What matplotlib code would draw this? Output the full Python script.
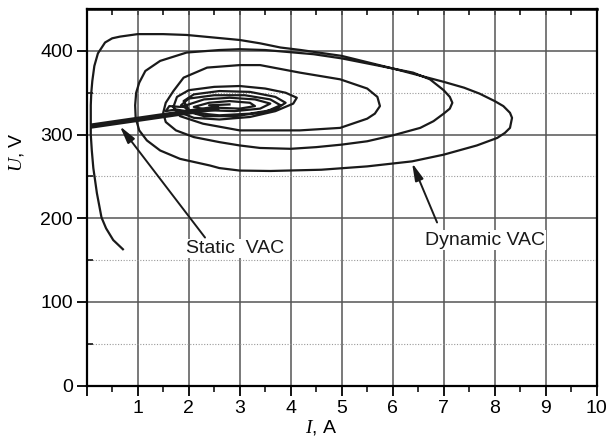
import matplotlib
matplotlib.use('Agg')
import matplotlib.pyplot as plt
from matplotlib.ticker import MultipleLocator

plt.rcParams['font.family'] = ['Liberation Sans', 'DejaVu Sans']
plt.rcParams['mathtext.fontset'] = 'custom'
plt.rcParams['mathtext.it'] = 'Liberation Serif:italic'
plt.rcParams['mathtext.rm'] = 'Liberation Sans'

#%% data: current I (A), voltage U (V)
# dynamic VAC, one spiral from the outer loop into the cluster
I_dyn = [0.71, 0.52, 0.38, 0.29, 0.20, 0.13, 0.10, 0.08, 0.08, 0.08, 0.09, 0.11, 0.15, 0.22, 0.36, 0.50,
         0.65, 1.00, 1.50, 1.96, 2.48, 3.00, 3.40, 3.80, 4.20, 5.00, 6.00, 6.50, 7.00, 7.40, 7.70, 8.00,
         8.17, 8.30, 8.34, 8.30, 8.20, 8.05, 7.65, 7.00, 6.38, 5.50, 4.60, 3.60, 3.00, 2.60, 2.42, 1.83,
         1.44, 1.18, 1.03, 0.96, 0.95, 0.97, 1.03, 1.15, 1.44, 1.96, 2.60, 3.00, 3.50, 4.45, 5.00, 5.75,
         6.40, 6.73, 7.00, 7.12, 7.17, 7.12, 7.00, 6.80, 6.54, 6.00, 5.50, 5.00, 4.50, 4.00, 3.40, 3.00,
         2.60, 2.10, 1.75, 1.55, 1.50, 1.55, 1.70, 1.90, 2.36, 3.00, 3.40, 4.18, 4.97, 5.50, 5.70, 5.75,
         5.65, 5.50, 4.97, 4.18, 3.00, 2.28, 1.83, 1.70, 1.77, 2.00, 2.50, 3.00, 3.50, 3.90, 4.12, 4.05,
         3.70, 3.20, 2.60, 2.10, 1.85, 2.00, 1.90, 2.10, 2.60, 3.20, 3.70, 3.90, 3.70, 3.20, 2.60, 2.10,
         1.85, 2.00, 2.50, 3.10, 3.60, 3.80, 3.50, 2.90, 2.30, 1.95, 1.75, 1.55, 1.62, 1.85, 2.00, 2.30,
         2.80, 3.30, 3.60, 3.40, 2.90, 2.40, 2.10, 2.40, 2.80, 3.20, 3.30, 3.00, 2.60, 2.40, 2.80]
U_dyn = [163, 174, 188, 201, 230, 260, 281, 300, 313, 335, 350, 364, 382, 397, 410, 415,
         417, 420, 420, 419, 416, 413, 409, 404, 401, 394, 379, 371, 363, 356, 349, 340,
         334, 326, 320, 308, 302, 296, 287, 276, 268, 262, 258, 256.5, 257, 260, 263, 271,
         281, 293, 305, 320, 335, 350, 362, 376, 388, 398, 401, 402, 401, 396, 391, 382,
         374, 366, 353, 345, 338, 331, 325, 316, 308, 299, 292, 288, 285, 283, 284, 287,
         291, 297, 305, 315, 326, 338, 352, 368, 380, 383, 383, 374, 366, 355, 345, 334,
         325, 319, 308, 305, 305, 313, 322, 333, 345, 353, 357, 358, 355, 350, 344, 337,
         328, 321, 318, 320, 326, 330, 340, 348, 352, 351, 345, 338, 330, 325, 323, 326,
         335, 343, 347, 347, 342, 335, 327, 322, 322, 328, 330, 328, 334, 333, 336, 342,
         344, 342, 337, 331, 328, 329, 333, 338, 340, 338, 334, 331, 332, 335, 336]

# static VAC
I_stat = [0.07, 1.77, 2.60]
U_stat = [310, 325, 332]

# annotations: (text position, arrow tip)
static_text = (2.91, 164)
static_tip = (0.65, 310)
static_tail = (2.32, 177)
dyn_text = (7.81, 174)
dyn_tip = (6.38, 266)
dyn_tail = (6.87, 195)

#%% figure
fig = plt.figure(figsize=(6.08, 4.46), dpi=100)
ax = fig.add_axes([0.1426, 0.1352, 0.8388, 0.8446])

ax.plot(I_dyn, U_dyn, color='#1a1a1a', lw=1.6, solid_joinstyle='round', zorder=3)
ax.plot(I_stat, U_stat, color='#1a1a1a', lw=3.8, solid_capstyle='butt', zorder=4)

arrow = dict(arrowstyle='-|>,head_length=0.65,head_width=0.16', color='#1a1a1a', lw=1.4,
             mutation_scale=16, shrinkA=0, shrinkB=0)
ax.annotate('', xy=static_tip, xytext=static_tail, arrowprops=arrow)
ax.annotate('', xy=dyn_tip, xytext=dyn_tail, arrowprops=arrow)
ax.text(*static_text, 'Static  VAC', fontsize=14, ha='center', va='center', color='#1a1a1a',
        bbox=dict(fc='white', ec='none', pad=1))
ax.text(*dyn_text, 'Dynamic VAC', fontsize=14, ha='center', va='center', color='#1a1a1a',
        bbox=dict(fc='white', ec='none', pad=1))

ax.set_xlim(0, 10)
ax.set_ylim(0, 450)
ax.set_xticks(range(0, 11))
ax.set_xticklabels([''] + [str(i) for i in range(1, 11)])
ax.set_yticks(range(0, 401, 100))
ax.xaxis.set_minor_locator(MultipleLocator(0.5))
ax.yaxis.set_minor_locator(MultipleLocator(50))

ax.grid(which='major', color='#555555', lw=1.1, zorder=1)
ax.grid(which='minor', axis='y', color='#9a9a9a', lw=0.8, ls=(0, (1, 1.5)), zorder=1)
ax.set_axisbelow(True)

ax.tick_params(which='major', direction='out', length=7, width=1.3, labelsize=14, pad=3)
ax.tick_params(which='minor', direction='out', length=4, width=1.1)
ax.tick_params(axis='y', which='minor', direction='in', length=4)
secx = ax.secondary_xaxis('top')
secx.set_xticks(range(0, 11))
secx.xaxis.set_minor_locator(MultipleLocator(0.5))
secx.tick_params(which='both', direction='in', length=4, width=1.1, labelsize=0)
secx.set_xticklabels([])
for s in ax.spines.values():
    s.set_linewidth(1.6)
secx.spines['top'].set_linewidth(1.8)

ax.set_xlabel('$I$, A', fontsize=14, labelpad=2)
ax.set_ylabel('$U$, V', fontsize=14, labelpad=8)
ax.xaxis.set_label_coords(0.46, -0.085)
ax.yaxis.set_label_coords(-0.12, 0.62)

fig.savefig('out.png', dpi=100)
